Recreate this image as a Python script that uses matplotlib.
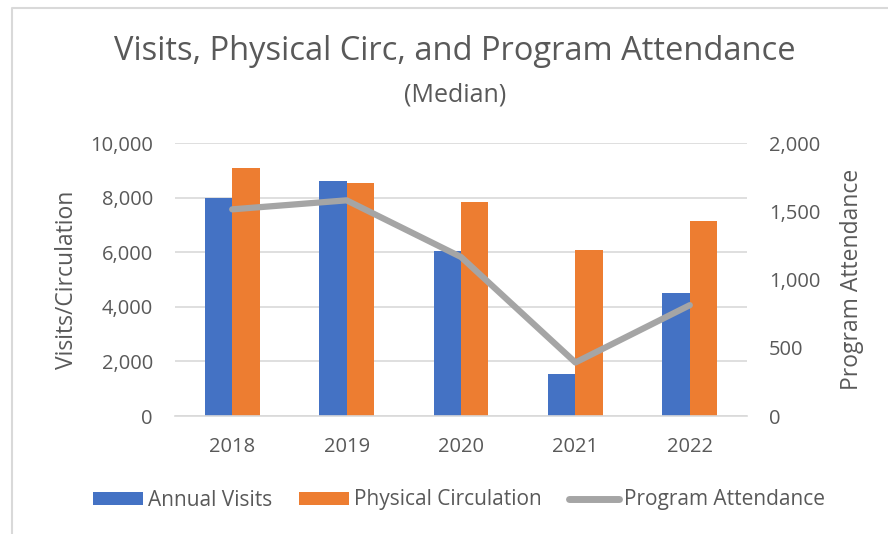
import matplotlib
matplotlib.use("Agg")
import matplotlib.pyplot as plt
import numpy as np
from matplotlib.patches import Patch
from matplotlib.lines import Line2D
from matplotlib.ticker import FuncFormatter

years = ["2018", "2019", "2020", "2021", "2022"]
annual_visits = [8000, 8620, 6040, 1540, 4500]
physical_circ = [9070, 8520, 7850, 6080, 7150]
program_attendance = [1514, 1580, 1165, 392, 812]

BLUE = "#4472C4"
ORANGE = "#ED7D31"
GRAY = "#A5A5A5"
TEXT = "#595959"

plt.rcParams["font.family"] = ["Open Sans", "DejaVu Sans"]

fig = plt.figure(figsize=(8.88, 5.34), dpi=100)
# chart frame (only top and left edges show in the crop)
fig.add_artist(Line2D([12 / 888, 12 / 888, 1], [0, 1 - 8 / 534, 1 - 8 / 534],
                      transform=fig.transFigure, color="#D9D9D9", lw=1.5))

ax = fig.add_axes([175 / 888, 1 - 416 / 534, 572 / 888, 273 / 534])
x = np.arange(len(years))
w = 0.24
ax.bar(x - w / 2, annual_visits, w, color=BLUE, zorder=2)
ax.bar(x + w / 2, physical_circ, w, color=ORANGE, zorder=2)
ax.set_xlim(-0.5, len(years) - 0.5)
ax.set_ylim(0, 10000)
ax.set_yticks(np.arange(0, 10001, 2000))
ax.yaxis.set_major_formatter(FuncFormatter(lambda v, p: f"{int(v):,}"))
ax.set_xticks(x)
ax.set_xticklabels(years)
ax.yaxis.grid(True, color="#D9D9D9", lw=1.2, zorder=0)
ax.set_axisbelow(True)
for s in ("top", "right", "left"):
    ax.spines[s].set_visible(False)
ax.spines["bottom"].set_color("#D9D9D9")
ax.spines["bottom"].set_linewidth(1.2)
ax.tick_params(length=0, labelsize=14.5, colors=TEXT)
ax.tick_params(axis="x", pad=15)
ax.tick_params(axis="y", pad=16)
ax.set_ylabel("Visits/Circulation", fontsize=16.5, color=TEXT, labelpad=8)

ax2 = ax.twinx()
ax2.plot(x, program_attendance, color=GRAY, lw=4.5, solid_capstyle="round", zorder=3)
ax2.set_ylim(0, 2000)
ax2.set_yticks(np.arange(0, 2001, 500))
ax2.yaxis.set_major_formatter(FuncFormatter(lambda v, p: f"{int(v):,}"))
for s in ax2.spines.values():
    s.set_visible(False)
ax2.tick_params(length=0, labelsize=14.5, colors=TEXT, pad=16)
ax2.set_ylabel("Program Attendance", fontsize=16.5, color=TEXT, labelpad=14)

fig.text(455 / 888, 1 - 52 / 534, "Visits, Physical Circ, and Program Attendance",
         ha="center", va="center", fontsize=23.5, color=TEXT)
fig.text(455 / 888, 1 - 95 / 534, "(Median)", ha="center", va="center",
         fontsize=18, color=TEXT)

handles = [Patch(fc=BLUE, label="Annual Visits"),
           Patch(fc=ORANGE, label="Physical Circulation"),
           Line2D([0], [0], color=GRAY, lw=5, solid_capstyle="round",
                  label="Program Attendance")]
leg = fig.legend(handles=handles, loc="center", bbox_to_anchor=(459 / 888, 1 - 500 / 534),
                 ncol=3, frameon=False, fontsize=15, handlelength=2.4,
                 handleheight=0.6, handletextpad=0.25, columnspacing=1.3,
                 borderaxespad=0, borderpad=0)
for t in leg.get_texts():
    t.set_color(TEXT)

fig.savefig("out.png", dpi=100)
